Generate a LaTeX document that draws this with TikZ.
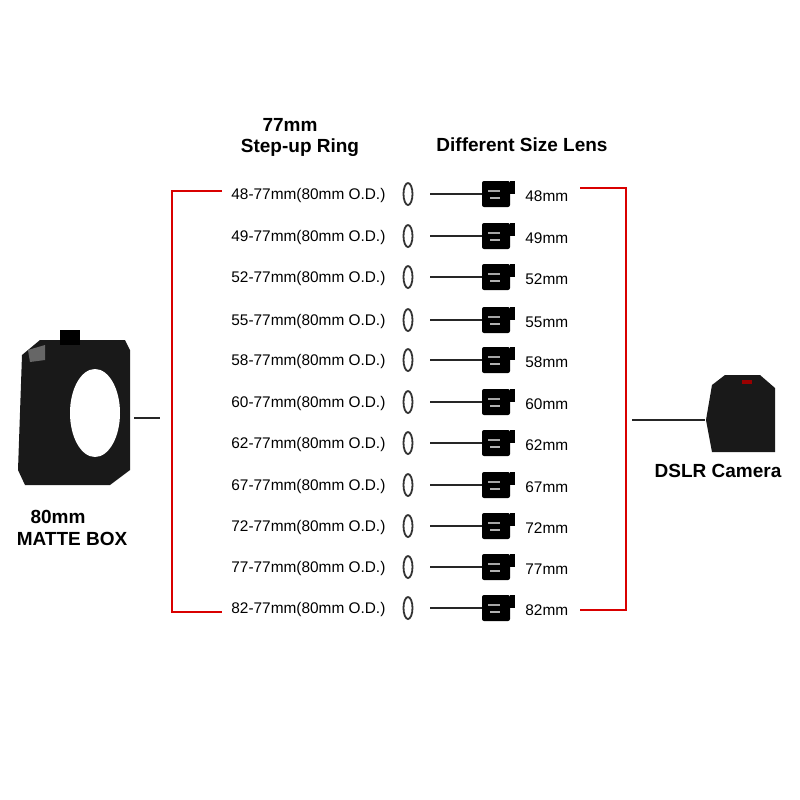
\documentclass[tikz,border=0pt]{standalone}
\usepackage{fontspec}
\setmainfont{Liberation Sans}
\begin{document}
\begin{tikzpicture}[x=0.5pt,y=-0.5pt,
  rowtxt/.style={font=\fontsize{7.7}{9}\selectfont,inner sep=0pt},
  head/.style={font=\bfseries\fontsize{9.5}{11}\selectfont,inner sep=0pt},
  bracket/.style={draw=red!85!black,line width=1.1pt},
  conn/.style={draw=black!85,line width=0.9pt}]
\useasboundingbox (0,0) rectangle (800,800);
\node[head] (h1) at (290,125) {77mm};
\node[head] (h2) at (300,148) {Step-up Ring};
\node[head] (h3) at (522,145) {Different Size Lens};
\foreach \i/\a/\y in {1/48/194,2/49/236,3/52/277,4/55/320,5/58/360,6/60/402,7/62/443,8/67/485,9/72/526,10/77/567,11/82/608}{
  \node[rowtxt,anchor=west] (t\i) at (231,\y+2) {\a-77mm(80mm O.D.)};
  \draw[black!80,line width=0.9pt] (408,\y) ellipse (4.5 and 11);
  \coordinate (ra\i) at (430,\y);
  \node[fill=black,minimum width=14,minimum height=13,inner sep=0pt,rounded corners=1pt] (l\i) at (496,\y) {};
  \fill[black] (l\i.north east) rectangle ++(5,13);
  \fill[gray!70] (488,\y-4) rectangle ++(12,1.5);
  \fill[gray!60] (490,\y+3) rectangle ++(10,1.5);
  \draw[conn] (ra\i) -- (l\i.west);
  \node[rowtxt,anchor=west] (m\i) at (525,\y+2) {\a mm};
}
\coordinate (bl1) at (222,191); \coordinate (bl2) at (222,612);
\draw[bracket] (bl1) -- (172,191) -- (172,612) -- (bl2);
\coordinate (br1) at (580,188); \coordinate (br2) at (580,610);
\draw[bracket] (br1) -- (626,188) -- (626,610) -- (br2);
% matte box
\fill[black!90] (22,355) -- (40,340) -- (125,340) -- (130,350) -- (130,470) -- (110,485) -- (25,485) -- (18,470) -- cycle;
\fill[black] (60,330) rectangle (80,345);
\fill[black!60] (28,350) -- (45,345) -- (45,360) -- (30,362) -- cycle;
\fill[white] (95,413) ellipse (25 and 44);
\node[inner sep=0pt,minimum size=1pt] (mb) at (133,418) {};
\coordinate (mbr) at (160,418);
\draw[conn] (mb) -- (mbr);
\node[head] (mt1) at (58,517) {80mm};
\node[head] (mt2) at (72,539) {MATTE BOX};
% camera
\fill[black!90] (712,385) -- (725,375) -- (760,375) -- (775,388) -- (775,452) -- (712,452) -- (706,420) -- cycle;
\fill[red!60!black] (742,380) rectangle (752,384);
\node[inner sep=0pt,minimum size=1pt] (cam) at (706,420) {};
\coordinate (cl) at (632,420);
\draw[conn] (cl) -- (cam);
\node[head] (ct) at (718,471) {DSLR Camera};
\end{tikzpicture}
\end{document}
